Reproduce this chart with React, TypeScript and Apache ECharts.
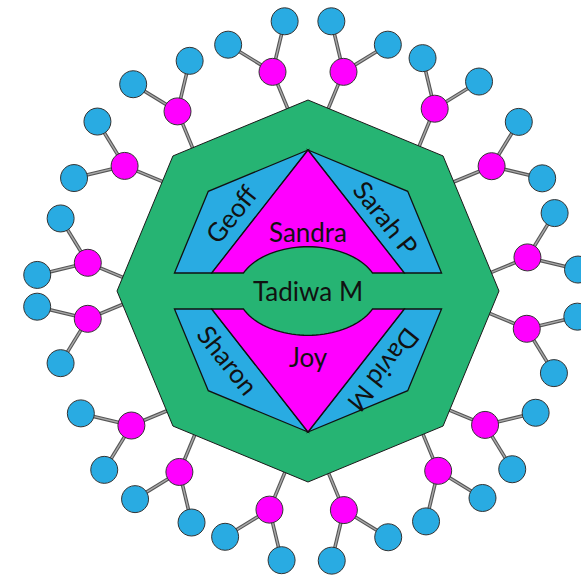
import React, { useEffect, useRef } from "react";
import * as echarts from "echarts";

// ---------- data ----------
const rootName = "Tadiwa M";
const triangleNames = ["Sandra", "Joy"]; // upper, lower
const sideNames = ["Geoff", "Sarah P", "Sharon", "David M"]; // upper-left, upper-right, lower-left, lower-right
// outer branch nodes: polar angle (deg, counter-clockwise from east), two per octagon side,
// sides clockwise starting from the upper-right side
const branchAngles = [
  80.8, 55.2, // side 0
  34.2, 8.7, // side 1
  -9.8, -37.1, // side 2
  -54.1, -80.7, // side 3
  -100.0, -125.4, // side 4
  -142.7, -172.8, // side 5
  172.7, 145.7, // side 6
  126.0, 99.2, // side 7
];
const branchSide = [0, 0, 1, 1, 2, 2, 3, 3, 4, 4, 5, 5, 6, 6, 7, 7];
const leavesPerBranch = [2, 2, 2, 2, 2, 2, 2, 2, 2, 2, 2, 2, 2, 2, 2, 2];

// ---------- layout / style ----------
const GREEN = "#26b473";
const BLUE = "#29abe2";
const MAGENTA = "#ff00ff";
const OUTER_R = 191;
const INNER_R = 141;
const BAND = 18;
const TRI_BASE = 96.3;
const ELL_A = 70.6;
const ELL_B = 44.3;
const BRANCH_R = 222;
const LEAF_LEN = 52;
const LEAF_SPREAD = 36;
const NODE_R = 13.5;
const FONT = "Lato";
const FONT_SIZE = 26;

type Pt = [number, number];
const rad = (d: number) => (d * Math.PI) / 180;
const polar = (r: number, deg: number): Pt => [r * Math.cos(rad(deg)), r * Math.sin(rad(deg))];

function buildShapes() {
  const shapes: { points: Pt[]; color: string; stroke: string; lw: number }[] = [];
  const oct: Pt[] = [];
  for (let k = 0; k < 8; k++) oct.push(polar(OUTER_R, 90 - 45 * k));
  shapes.push({ points: oct, color: GREEN, stroke: "#1a1a1a", lw: 1 });

  const top = polar(INNER_R, 90);
  const ul = polar(INNER_R, 135);
  const left = polar(INNER_R, 180);
  const t = (ul[1] - BAND) / (ul[1] - left[1]);
  const cut: Pt = [ul[0] + (left[0] - ul[0]) * t, BAND];
  const side: Pt[] = [top, ul, cut, [-TRI_BASE, BAND]];
  const mir = (pts: Pt[], sx: number, sy: number): Pt[] => pts.map((p) => [p[0] * sx, p[1] * sy] as Pt);
  shapes.push({ points: side, color: BLUE, stroke: "#111", lw: 1.3 });
  shapes.push({ points: mir(side, -1, 1), color: BLUE, stroke: "#111", lw: 1.3 });
  shapes.push({ points: mir(side, 1, -1), color: BLUE, stroke: "#111", lw: 1.3 });
  shapes.push({ points: mir(side, -1, -1), color: BLUE, stroke: "#111", lw: 1.3 });

  const th0 = Math.asin(BAND / ELL_B);
  const tri: Pt[] = [top, [-TRI_BASE, BAND]];
  const N = 40;
  for (let i = 0; i <= N; i++) {
    const th = Math.PI - th0 - ((Math.PI - 2 * th0) * i) / N;
    tri.push([ELL_A * Math.cos(th), ELL_B * Math.sin(th)]);
  }
  tri.push([TRI_BASE, BAND]);
  shapes.push({ points: tri, color: MAGENTA, stroke: "#111", lw: 1.3 });
  shapes.push({ points: mir(tri, 1, -1), color: MAGENTA, stroke: "#111", lw: 1.3 });
  return shapes;
}

function buildTree() {
  const links: [Pt, Pt][] = [];
  const nodes: { p: Pt; color: string }[] = [];
  branchAngles.forEach((ang, b) => {
    const normal = 67.5 - 45 * branchSide[b];
    const n = polar(1, normal);
    const p = polar(BRANCH_R, ang);
    const foot: Pt = [p[0] - n[0] * 70, p[1] - n[1] * 70];
    links.push([p, foot]);
    const nl = leavesPerBranch[b];
    for (let l = 0; l < nl; l++) {
      const a = nl === 1 ? normal : normal - LEAF_SPREAD + (2 * LEAF_SPREAD * l) / (nl - 1);
      const d = polar(LEAF_LEN, a);
      const lp: Pt = [p[0] + d[0], p[1] + d[1]];
      links.push([p, lp]);
      nodes.push({ p: lp, color: BLUE });
    }
    nodes.push({ p, color: MAGENTA });
  });
  return { links, nodes };
}

const labels: { text: string; p: Pt; rot: number }[] = [
  { text: rootName, p: [0, 0], rot: 0 },
  { text: triangleNames[0], p: [0, 59], rot: 0 },
  { text: triangleNames[1], p: [0, -66], rot: 0 },
  { text: sideNames[0], p: [-77, 77], rot: 51.6 },
  { text: sideNames[1], p: [78, 73], rot: -51.6 },
  { text: sideNames[2], p: [-80, -69], rot: -51.6 },
  { text: sideNames[3], p: [76, -79], rot: -128.4 },
];

export default function App() {
  const ref = useRef<HTMLDivElement>(null);
  useEffect(() => {
    document.body.style.margin = "0";
    const chart = echarts.init(ref.current!, null, { renderer: "svg" });
    const shapes = buildShapes();
    const { links, nodes } = buildTree();
    chart.setOption({
      animation: false,
      grid: { left: 0, right: 0, top: 0, bottom: 0 },
      xAxis: { type: "value", min: -308, max: 273, show: false },
      yAxis: { type: "value", min: -289, max: 291, show: false },
      series: [
        {
          type: "custom",
          z: 1,
          data: links.map(() => [0, 0]),
          renderItem: (params: any, api: any) => {
            const [a, b] = links[params.dataIndex];
            const p1 = api.coord(a);
            const p2 = api.coord(b);
            return {
              type: "group",
              children: [
                { type: "line", shape: { x1: p1[0], y1: p1[1], x2: p2[0], y2: p2[1] }, style: { stroke: "#555", lineWidth: 3.6 } },
                { type: "line", shape: { x1: p1[0], y1: p1[1], x2: p2[0], y2: p2[1] }, style: { stroke: "#aaa", lineWidth: 1.4 } },
              ],
            };
          },
        },
        {
          type: "custom",
          z: 2,
          data: shapes.map(() => [0, 0]),
          renderItem: (params: any, api: any) => {
            const s = shapes[params.dataIndex];
            return {
              type: "polygon",
              shape: { points: s.points.map((p) => api.coord(p)) },
              style: { fill: s.color, stroke: s.stroke, lineWidth: s.lw },
            };
          },
        },
        {
          type: "custom",
          z: 3,
          data: labels.map(() => [0, 0]),
          renderItem: (params: any, api: any) => {
            const l = labels[params.dataIndex];
            const p = api.coord(l.p);
            return {
              type: "text",
              x: p[0],
              y: p[1],
              rotation: rad(l.rot),
              style: { text: l.text, fill: "#111", fontSize: FONT_SIZE, fontFamily: FONT, align: "center", verticalAlign: "middle" },
            };
          },
        },
        {
          type: "custom",
          z: 4,
          data: nodes.map(() => [0, 0]),
          renderItem: (params: any, api: any) => {
            const n = nodes[params.dataIndex];
            const p = api.coord(n.p);
            return {
              type: "circle",
              shape: { cx: p[0], cy: p[1], r: NODE_R },
              style: { fill: n.color, stroke: "#333", lineWidth: 1 },
            };
          },
        },
      ],
    });
    return () => chart.dispose();
  }, []);
  return <div ref={ref} style={{ width: 581, height: 580 }} />;
}
